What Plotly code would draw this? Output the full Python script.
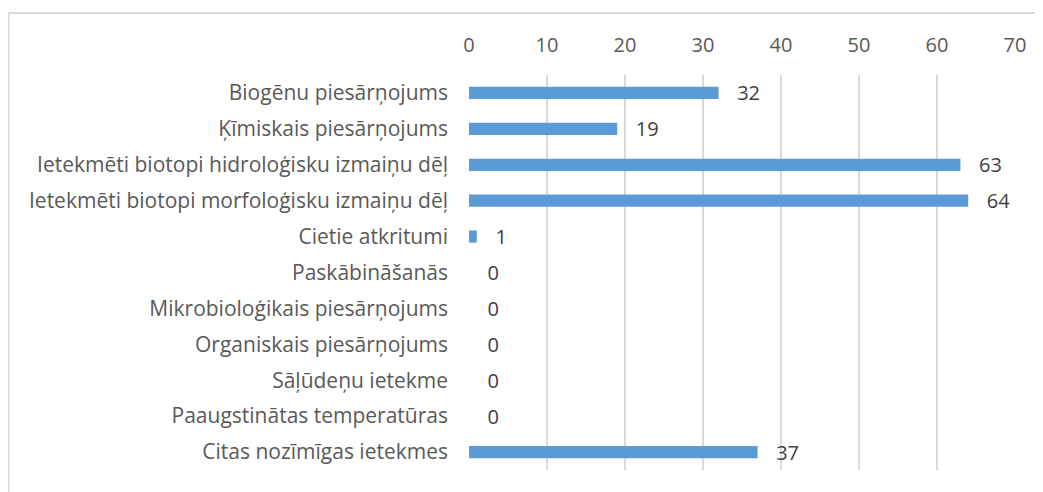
import plotly.graph_objects as go

categories = [
    "Biogēnu piesārņojums",
    "Ķīmiskais piesārņojums",
    "Ietekmēti biotopi hidroloģisku izmaiņu dēļ",
    "Ietekmēti biotopi morfoloģisku izmaiņu dēļ",
    "Cietie atkritumi",
    "Paskābināšanās",
    "Mikrobioloģikais piesārņojums",
    "Organiskais piesārņojums",
    "Sāļūdeņu ietekme",
    "Paaugstinātas temperatūras",
    "Citas nozīmīgas ietekmes",
]
values = [32, 19, 63, 64, 1, 0, 0, 0, 0, 0, 37]
x_ticks = [0, 10, 20, 30, 40, 50, 60, 70]

OFF = 8  # page body offset
W, H = 1043, 492
ml, mr, mt, mb = 469 - OFF, 1043 - (1015 - OFF), 75 - OFF, 492 - (470 - OFF)

fig = go.Figure(go.Bar(
    y=categories,
    x=values,
    orientation="h",
    marker=dict(color="#5B9BD5", line=dict(width=0)),
    width=0.34,
    text=[f"   {v}" for v in values],
    textposition="outside",
    constraintext="none",
    cliponaxis=False,
    textfont=dict(family="Open Sans", size=20, color="#404040"),
))

pw = W - ml - mr
ph = H - mt - mb
# border (top and left visible)
x0 = (0.5 - ml) / pw
y1 = 1 + (mt - 5) / ph
fig.add_shape(type="line", xref="paper", yref="paper", x0=x0, x1=(W + 5 - ml) / pw,
              y0=y1, y1=y1, line=dict(color="#D9D9D9", width=2))
fig.add_shape(type="line", xref="paper", yref="paper", x0=x0, x1=x0,
              y0=y1, y1=-(mb + 5) / ph, line=dict(color="#D9D9D9", width=2))

fig.update_layout(
    width=W, height=H,
    margin=dict(l=ml, r=mr, t=mt, b=mb),
    paper_bgcolor="white", plot_bgcolor="white",
    showlegend=False,
    xaxis=dict(
        side="top", range=[0, 70], tickvals=x_ticks,
        showgrid=True, gridcolor="#D9D9D9", gridwidth=2,
        zeroline=False, showline=False, ticks="",
        tickfont=dict(family="Open Sans", size=20, color="#595959"),
        ticklabelstandoff=18,
    ),
    yaxis=dict(
        autorange="reversed", categoryorder="array", categoryarray=categories,
        showline=False, ticks="", showgrid=False,
        tickfont=dict(family="Open Sans", size=21, color="#595959"),
        ticklabelstandoff=20,
    ),
)

fig.write_html("out.html")
